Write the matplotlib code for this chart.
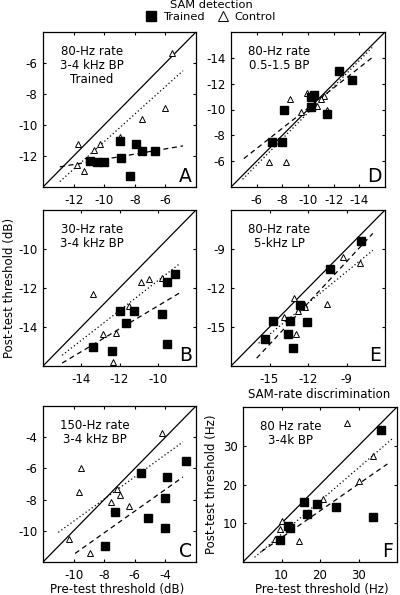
import numpy as np
import matplotlib.pyplot as plt
from matplotlib.lines import Line2D

plt.rcParams['font.family'] = 'DejaVu Sans'
plt.rcParams['font.size'] = 8
plt.rcParams['axes.unicode_minus'] = False

# ---- data: pre-test vs post-test thresholds ----
# A: 80-Hz rate, 3-4 kHz BP (dB)
a_tr_pre = [-10.9, -10.5, -10.0, -9.0, -8.9, -8.3, -7.9, -7.55, -6.7]
a_tr_post = [-12.3, -12.4, -12.4, -11.0, -12.1, -13.3, -11.2, -11.7, -11.7]
a_co_pre = [-5.6, -6.0, -7.55, -9.0, -10.3, -10.65, -11.7, -11.8, -11.3]
a_co_post = [-5.35, -8.9, -9.6, -10.75, -11.25, -11.6, -11.2, -12.6, -12.95]
a_fit_tr = [[-12.9, -4.85], [-12.7, -11.35]]
a_fit_co = [[-12.9, -4.85], [-13.65, -6.5]]

# D: 80-Hz rate, 0.5-1.5 BP (dB)
d_tr_pre = [-12.45, -13.4, -10.5, -10.2, -10.25, -8.15, -11.5, -7.2, -7.95]
d_tr_post = [-13.0, -12.25, -11.15, -11.0, -10.2, -10.0, -9.65, -7.45, -7.45]
d_co_pre = [-8.6, -9.9, -11.25, -11.0, -9.45, -10.7, -11.5, -6.95, -8.3]
d_co_post = [-10.8, -11.25, -11.05, -10.85, -9.8, -10.3, -10.0, -5.95, -5.95]
d_fit_tr = [[-5.0, -15.1], [-6.2, -14.1]]
d_fit_co = [[-4.9, -15.0], [-4.6, -14.8]]

# B: 30-Hz rate, 3-4 kHz BP (dB)
b_tr_pre = [-13.4, -12.4, -12.0, -11.65, -11.25, -9.8, -9.5, -9.5, -9.1]
b_tr_post = [-15.0, -15.25, -13.2, -13.8, -13.2, -13.35, -14.85, -11.7, -11.3]
b_co_pre = [-13.4, -12.85, -12.2, -12.35, -11.5, -10.85, -10.45, -9.8]
b_co_post = [-12.3, -14.35, -14.3, -15.8, -12.9, -11.7, -11.55, -11.5]
b_fit_tr = [[-15.0, -8.85], [-15.85, -12.25]]
b_fit_co = [[-15.0, -8.85], [-15.45, -10.75]]

# E: 80-Hz rate, 5-kHz LP (dB)
e_tr_pre = [-7.9, -10.3, -12.6, -14.7, -13.4, -12.1, -15.35, -13.55, -13.2]
e_tr_post = [-8.35, -10.55, -13.3, -14.5, -14.5, -14.65, -15.9, -15.5, -16.6]
e_co_pre = [-9.25, -7.95, -13.1, -12.35, -12.25, -12.75, -13.9, -10.5, -12.9]
e_co_post = [-9.65, -10.1, -12.8, -13.2, -13.45, -13.8, -14.25, -13.25, -15.55]
e_fit_tr = [[-16.0, -6.95], [-17.4, -7.8]]
e_fit_co = [[-15.85, -6.95], [-16.25, -9.1]]

# C: 150-Hz rate, 3-4 kHz BP (dB)
c_tr_pre = [-2.65, -5.6, -3.9, -4.05, -7.3, -5.15, -4.05, -7.95]
c_tr_post = [-5.55, -6.3, -6.55, -7.9, -8.8, -9.15, -9.85, -10.95]
c_co_pre = [-4.2, -9.5, -9.65, -7.15, -7.0, -7.55, -6.35, -10.3, -8.9]
c_co_post = [-3.7, -5.95, -7.5, -7.3, -7.7, -8.15, -8.4, -10.5, -11.4]
c_fit_tr = [[-9.9, -2.85], [-11.45, -6.55]]
c_fit_co = [[-11.0, -2.85], [-10.1, -4.3]]

# F: SAM-rate discrimination, 80 Hz rate, 3-4k BP (Hz)
f_tr_pre = [35.8, 15.8, 19.3, 16.5, 24.2, 33.7, 11.6, 12.2, 9.6]
f_tr_post = [34.1, 15.4, 15.0, 12.5, 14.1, 11.7, 9.2, 8.7, 5.6]
f_co_pre = [27.0, 33.7, 30.2, 20.9, 10.2, 9.6, 8.3, 14.6]
f_co_post = [36.0, 27.4, 21.0, 16.3, 10.7, 8.6, 5.9, 5.5]
f_fit_tr = [[4.8, 37.5], [2.7, 25.3]]
f_fit_co = [[3.0, 39.0], [1.2, 32.0]]

W, H = 400, 595


def px_rect(l, t, r, b):
    return [l / W, 1 - b / H, (r - l) / W, (b - t) / H]


panels = [
    ('A', px_rect(43, 32, 196, 187), (-14, -4), [-12, -10, -8, -6],
     '80-Hz rate\n3-4 kHz BP\nTrained',
     (a_tr_pre, a_tr_post, a_co_pre, a_co_post, a_fit_tr, a_fit_co)),
    ('D', px_rect(231, 32, 385, 187), (-4, -16), [-6, -8, -10, -12, -14],
     '80-Hz rate\n0.5-1.5 BP',
     (d_tr_pre, d_tr_post, d_co_pre, d_co_post, d_fit_tr, d_fit_co)),
    ('B', px_rect(43, 210, 196, 366), (-16, -8), [-14, -12, -10],
     '30-Hz rate\n3-4 kHz BP',
     (b_tr_pre, b_tr_post, b_co_pre, b_co_post, b_fit_tr, b_fit_co)),
    ('E', px_rect(231, 210, 385, 366), (-18, -6), [-15, -12, -9],
     '80-Hz rate\n5-kHz LP',
     (e_tr_pre, e_tr_post, e_co_pre, e_co_post, e_fit_tr, e_fit_co)),
    ('C', px_rect(43, 406, 196, 562), (-12, -2), [-10, -8, -6, -4],
     '150-Hz rate\n3-4 kHz BP',
     (c_tr_pre, c_tr_post, c_co_pre, c_co_post, c_fit_tr, c_fit_co)),
    ('F', px_rect(243, 407, 397, 562), (0, 40), [10, 20, 30],
     '80 Hz rate\n3-4k BP',
     (f_tr_pre, f_tr_post, f_co_pre, f_co_post, f_fit_tr, f_fit_co)),
]

fig = plt.figure(figsize=(W / 100, H / 100), dpi=100)

for letter, rect, lim, ticks, label, data in panels:
    tr_x, tr_y, co_x, co_y, fit_tr, fit_co = data
    ax = fig.add_axes(rect)
    ax.plot(lim, lim, color='black', lw=0.9)
    ax.plot(fit_co[0], fit_co[1], color='black', lw=0.9, ls=(0, (1, 2)))
    ax.plot(fit_tr[0], fit_tr[1], color='black', lw=0.9, ls=(0, (4, 3)))
    ax.plot(co_x, co_y, ls='none', marker='^', ms=5, mfc='white',
            mec='black', mew=0.7)
    ax.plot(tr_x, tr_y, ls='none', marker='s', ms=5.5, color='black')
    ax.set_xlim(lim)
    ax.set_ylim(lim)
    ax.set_xticks(ticks)
    ax.set_yticks(ticks)
    ax.tick_params(direction='in', length=2.5, width=0.8, top=True,
                   right=True, labelsize=8.5)
    ax.tick_params(axis='x', pad=5)
    ax.tick_params(axis='y', pad=4)
    for sp in ax.spines.values():
        sp.set_linewidth(0.9)
    ax.text(0.11, 0.915, label, transform=ax.transAxes, ha='left',
            va='top', multialignment='center', fontsize=8.5,
            linespacing=1.1)
    ax.text(0.975, 0.035, letter, transform=ax.transAxes, ha='right',
            va='baseline', fontsize=13.5)
    if letter == 'F':
        ax.set_ylabel('Post-test threshold (Hz)', fontsize=8.5)
        ax.yaxis.set_label_coords(-0.165, 0.5)

fig.text(10 / W, 1 - 288 / H, 'Post-test threshold (dB)', rotation=90,
         ha='center', va='center', fontsize=8.5)
fig.text(117 / W, 1 - 589 / H, 'Pre-test threshold (dB)', ha='center',
         va='center', fontsize=8.5)
fig.text(322 / W, 1 - 589 / H, 'Pre-test threshold (Hz)', ha='center',
         va='center', fontsize=8.5)
fig.text(319 / W, 1 - 394 / H, 'SAM-rate discrimination', ha='center',
         va='center', fontsize=8.5)
fig.text(211 / W, 1 - 5.5 / H, 'SAM detection', ha='center', va='center',
         fontsize=8.2)

handles = [Line2D([], [], ls='none', marker='s', ms=7, color='black'),
           Line2D([], [], ls='none', marker='^', ms=6.5, mfc='white',
                  mec='black', mew=0.7)]
fig.legend(handles, ['Trained', 'Control'], loc='center',
           bbox_to_anchor=(211 / W, 1 - 17 / H), ncol=2, frameon=False,
           fontsize=8.2, borderpad=0, handlelength=0.8, handletextpad=0.6,
           columnspacing=1.2)

fig.savefig('out.png', dpi=100)
